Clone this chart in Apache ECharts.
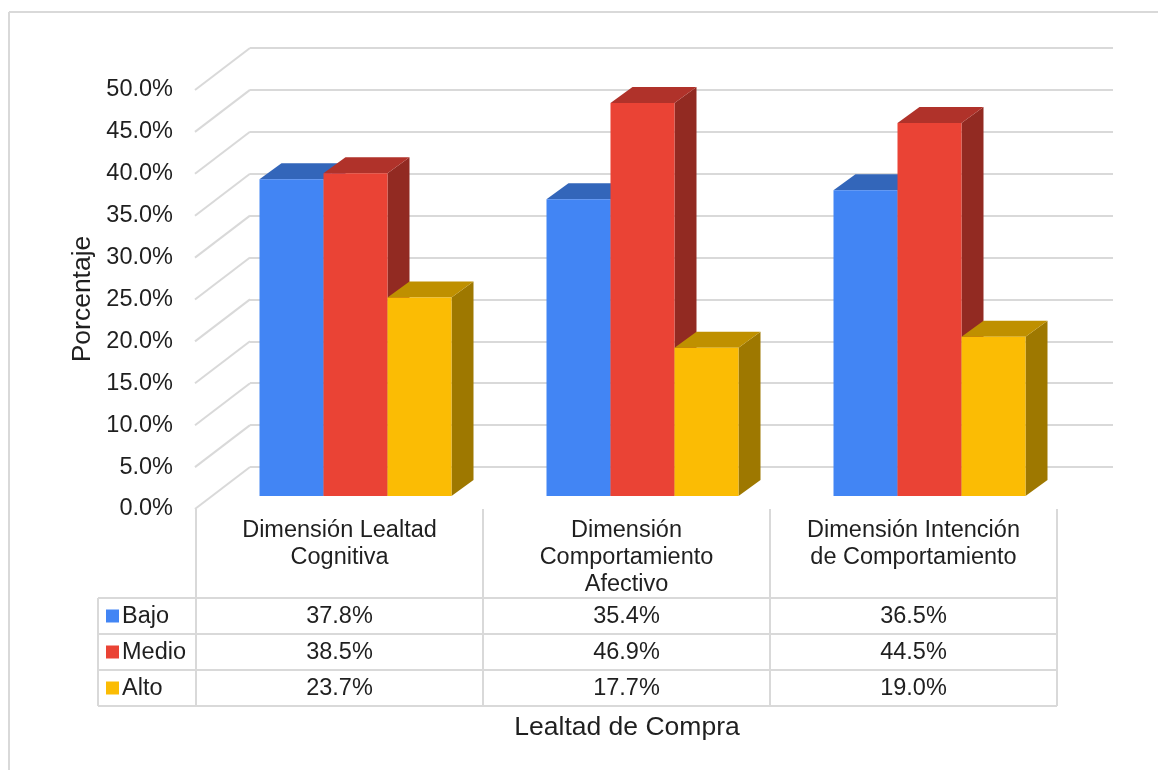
<!DOCTYPE html>
<html>
<head>
<meta charset="utf-8">
<script src="https://cdn.jsdelivr.net/npm/echarts@6/dist/echarts.min.js"></script>
<style>
  html, body { margin: 0; padding: 0; background: #ffffff; }
  #chart { width: 1158px; height: 770px; }
</style>
</head>
<body>
<div id="chart"></div>
<script>
// ---- data ----
const categories = [
  'Dimensión Lealtad\nCognitiva',
  'Dimensión\nComportamiento\nAfectivo',
  'Dimensión Intención\nde Comportamiento'
];
const levels = ['Bajo', 'Medio', 'Alto'];
const bajo  = [37.8, 35.4, 36.5];
const medio = [38.5, 46.9, 44.5];
const alto  = [23.7, 17.7, 19.0];
const yTicks = [0, 5, 10, 15, 20, 25, 30, 35, 40, 45, 50];
const yAxisTitle = 'Porcentaje';
const xAxisTitle = 'Lealtad de Compra';

// ---- styling ----
const seriesValues = [bajo, medio, alto];
const palette = [
  { front: '#4285F4', top: '#3366BA', side: '#2B56A0' },
  { front: '#EA4335', top: '#B0322A', side: '#922A22' },
  { front: '#FBBC04', top: '#BF9000', side: '#9E7800' }
];
const FONT = '"Liberation Sans", Arial, Helvetica, sans-serif';
const GRID_COLOR = '#d9d9d9';
const TEXT_COLOR = '#1f1f1f';
const TABLE_FONT = '23.5px ' + FONT;
const TITLE_FONT = '26.5px ' + FONT;
const depth = { dx: 22, dy: -16 };   // 3D extrusion of each bar
const wall = { dx: -55, dy: 42 };    // side-wall slant of the gridlines
const fmtPct = v => v.toFixed(1) + '%';

// table layout
const table = {
  left: 98, labelCol: 196, right: 1057,
  headTop: 509, rowTop: 598, rowH: 36
};

const chart = echarts.init(document.getElementById('chart'), null, { renderer: 'canvas' });

function barRenderer(level) {
  return function (params, api) {
    const idx = api.value(0);
    const val = api.value(1);
    const base = api.coord([idx, 0]);
    const topPt = api.coord([idx, val]);
    const band = api.size([1, 0])[0];
    const bw = band * 0.223;
    const x0 = base[0] - bw * 1.5 + level * bw;
    const x1 = x0 + bw;
    const yb = base[1], yt = topPt[1];
    const c = palette[level];
    return {
      type: 'group',
      children: [
        { type: 'polygon', shape: { points: [[x1, yb], [x1 + depth.dx, yb + depth.dy], [x1 + depth.dx, yt + depth.dy], [x1, yt]] }, style: { fill: c.side } },
        { type: 'polygon', shape: { points: [[x0, yt], [x1, yt], [x1 + depth.dx, yt + depth.dy], [x0 + depth.dx, yt + depth.dy]] }, style: { fill: c.top } },
        { type: 'rect', shape: { x: x0, y: yt, width: bw, height: yb - yt }, style: { fill: c.front } }
      ]
    };
  };
}

function wallRenderer(params, api) {
  const p = api.coord([0, api.value(1)]);
  return {
    type: 'line',
    shape: { x1: p[0], y1: p[1], x2: p[0] + wall.dx, y2: p[1] + wall.dy },
    style: { stroke: GRID_COLOR, lineWidth: 2 }
  };
}

// ---- table graphics built from the data ----
const graphics = [];
const colW = (table.right - table.labelCol) / categories.length;
const line = (x1, y1, x2, y2) => ({
  type: 'line', silent: true,
  shape: { x1, y1, x2, y2 },
  style: { stroke: GRID_COLOR, lineWidth: 2 }
});
// frame of the page
graphics.push(line(9, 12, 1158, 12));
graphics.push(line(9, 12, 9, 770));
// column dividers
for (let i = 0; i <= categories.length; i++) {
  const x = table.labelCol + i * colW;
  graphics.push(line(x, table.headTop, x, table.rowTop + levels.length * table.rowH));
}
graphics.push(line(table.left, table.rowTop, table.left, table.rowTop + levels.length * table.rowH));
for (let r = 0; r <= levels.length; r++) {
  const y = table.rowTop + r * table.rowH;
  graphics.push(line(table.left, y, table.right, y));
}
// header text
categories.forEach((c, i) => {
  graphics.push({
    type: 'text', silent: true,
    x: table.labelCol + (i + 0.5) * colW, y: 517,
    style: { text: c, font: TABLE_FONT, fill: TEXT_COLOR, align: 'center', verticalAlign: 'top', lineHeight: 27 }
  });
});
// rows
levels.forEach((name, r) => {
  const yc = table.rowTop + (r + 0.5) * table.rowH;
  graphics.push({
    type: 'rect', silent: true,
    shape: { x: 106, y: yc - 6.5, width: 13, height: 13 },
    style: { fill: palette[r].front }
  });
  graphics.push({
    type: 'text', silent: true, x: 122, y: yc + 1,
    style: { text: name, font: TABLE_FONT, fill: TEXT_COLOR, align: 'left', verticalAlign: 'middle' }
  });
  seriesValues[r].forEach((v, i) => {
    graphics.push({
      type: 'text', silent: true,
      x: table.labelCol + (i + 0.5) * colW, y: yc + 1,
      style: { text: fmtPct(v), font: TABLE_FONT, fill: TEXT_COLOR, align: 'center', verticalAlign: 'middle' }
    });
  });
});
// axis titles
graphics.push({
  type: 'text', silent: true, x: 83, y: 299, rotation: Math.PI / 2,
  style: { text: yAxisTitle, font: TITLE_FONT, fill: TEXT_COLOR, align: 'center', verticalAlign: 'middle' }
});
graphics.push({
  type: 'text', silent: true, x: 627, y: 728,
  style: { text: xAxisTitle, font: TITLE_FONT, fill: TEXT_COLOR, align: 'center', verticalAlign: 'middle' }
});

const option = {
  backgroundColor: '#ffffff',
  animation: false,
  grid: [
    // front edge: tick labels
    { left: 195, width: 1, top: 90, height: 419 },
    // back wall gridlines
    { left: 250, right: 45, top: 48, height: 419 },
    // bars
    { left: 212, width: 861, top: 77, height: 419 }
  ],
  xAxis: [
    { gridIndex: 0, type: 'value', show: false, min: 0, max: 1 },
    { gridIndex: 1, type: 'value', show: false, min: 0, max: 1 },
    { gridIndex: 2, type: 'category', data: categories, show: false }
  ],
  yAxis: [
    {
      gridIndex: 0, type: 'value', min: 0, max: 50, interval: 5,
      axisLine: { show: false }, axisTick: { show: false }, splitLine: { show: false },
      axisLabel: { formatter: fmtPct, fontSize: 23.5, fontFamily: FONT, color: TEXT_COLOR, margin: 22 }
    },
    {
      gridIndex: 1, type: 'value', min: 0, max: 50, interval: 5,
      axisLine: { show: false }, axisTick: { show: false }, axisLabel: { show: false },
      splitLine: { show: true, lineStyle: { color: GRID_COLOR, width: 2 } }
    },
    { gridIndex: 2, type: 'value', min: 0, max: 50, show: false, splitLine: { show: false } }
  ],
  series: [
    {
      type: 'custom', name: 'wall', xAxisIndex: 1, yAxisIndex: 1, silent: true,
      data: yTicks.map(v => [0, v]), renderItem: wallRenderer
    }
  ].concat(levels.map((name, l) => ({
    type: 'custom', name, xAxisIndex: 2, yAxisIndex: 2,
    data: seriesValues[l].map((v, i) => [i, v]),
    renderItem: barRenderer(l)
  }))),
  graphic: graphics
};

chart.setOption(option);
</script>
</body>
</html>
